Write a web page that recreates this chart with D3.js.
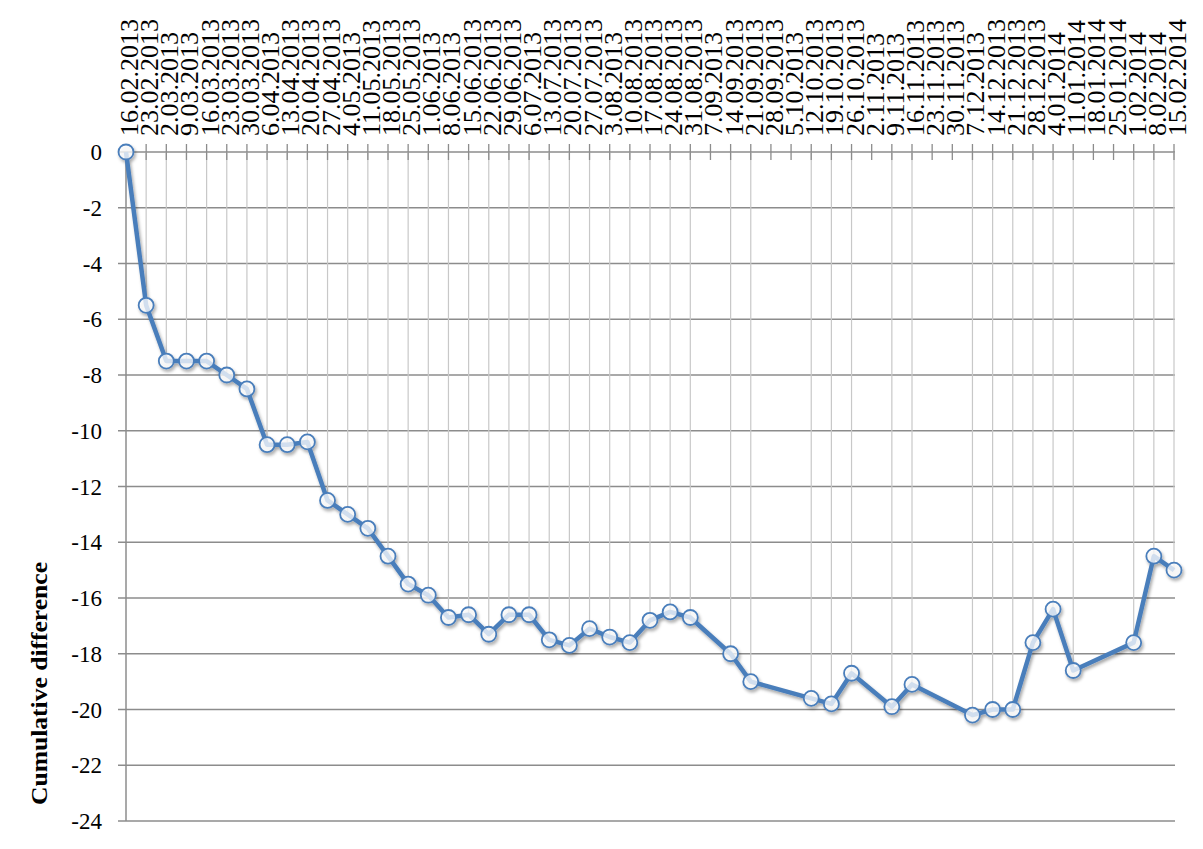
<!DOCTYPE html>
<html>
<head>
<meta charset="utf-8">
<script src="https://cdn.jsdelivr.net/npm/d3@7"></script>
<style>
  body { margin: 0; background: #fff; }
  svg { display: block; }
</style>
</head>
<body>
<div id="chart"></div>
<script>
// weekly categories, first to last
var weeks = ["16.02.2013","23.02.2013","2.03.2013","9.03.2013","16.03.2013","23.03.2013","30.03.2013",
  "6.04.2013","13.04.2013","20.04.2013","27.04.2013","4.05.2013","11.05.2013","18.05.2013","25.05.2013",
  "1.06.2013","8.06.2013","15.06.2013","22.06.2013","29.06.2013","6.07.2013","13.07.2013","20.07.2013",
  "27.07.2013","3.08.2013","10.08.2013","17.08.2013","24.08.2013","31.08.2013","7.09.2013","14.09.2013",
  "21.09.2013","28.09.2013","5.10.2013","12.10.2013","19.10.2013","26.10.2013","2.11.2013","9.11.2013",
  "16.11.2013","23.11.2013","30.11.2013","7.12.2013","14.12.2013","21.12.2013","28.12.2013","4.01.2014",
  "11.01.2014","18.01.2014","25.01.2014","1.02.2014","8.02.2014","15.02.2014"];

// cumulative difference, null = no value that week
var cumDiff = [0,-5.5,-7.5,-7.5,-7.5,-8,-8.5,
  -10.5,-10.5,-10.4,-12.5,-13,-13.5,-14.5,-15.5,
  -15.9,-16.7,-16.6,-17.3,-16.6,-16.6,-17.5,-17.7,
  -17.1,-17.4,-17.6,-16.8,-16.5,-16.7,null,-18,
  -19,null,null,-19.6,-19.8,-18.7,null,-19.9,
  -19.1,null,null,-20.2,-20,-20,-17.6,-16.4,
  -18.6,null,null,-17.6,-14.5,-15];

var yTicks = [0,-2,-4,-6,-8,-10,-12,-14,-16,-18,-20,-22,-24];
var yTitle = "Cumulative difference";

(function () {

    var W = 1203, H = 849;
    var pLeft = 126, pRight = 1174, pTop = 152, pBottom = 821;
    var blue = "#4a7ebb";
    var serif = "'Liberation Serif', 'Times New Roman', serif";

    var svg = d3.select("#chart").append("svg")
        .attr("width", W)
        .attr("height", H);

    var defs = svg.append("defs");
    var f = defs.append("filter").attr("id", "shadow")
        .attr("x", "-20%").attr("y", "-20%").attr("width", "140%").attr("height", "140%");
    f.append("feDropShadow")
        .attr("dx", 1.5).attr("dy", 2.5).attr("stdDeviation", 1.5)
        .attr("flood-color", "#000").attr("flood-opacity", 0.35);

    var x = d3.scalePoint()
        .domain(weeks)
        .range([pLeft, pRight]);

    var y = d3.scaleLinear()
        .domain([0, -24])
        .range([pTop, pBottom]);

    var data = weeks.map(function (w, i) { return { week: w, v: cumDiff[i] }; })
        .filter(function (d) { return d.v !== null; });

    //horizontal gridlines
    svg.append("g")
        .selectAll("line")
        .data(yTicks)
        .enter().append("line")
        .attr("x1", pLeft - 8)
        .attr("x2", pRight + 1)
        .attr("y1", function (d) { return y(d); })
        .attr("y2", function (d) { return y(d); })
        .attr("stroke", "#8c8c8c")
        .attr("stroke-width", 1.5);

    //drop lines from each point up to the category axis
    svg.append("g")
        .selectAll("line")
        .data(data)
        .enter().append("line")
        .attr("x1", function (d) { return x(d.week); })
        .attr("x2", function (d) { return x(d.week); })
        .attr("y1", pTop)
        .attr("y2", function (d) { return y(d.v); })
        .attr("stroke", "#c8c8c8")
        .attr("stroke-width", 1.2);

    //value axis line
    svg.append("line")
        .attr("x1", pLeft).attr("x2", pLeft)
        .attr("y1", pTop).attr("y2", pBottom)
        .attr("stroke", "#8c8c8c")
        .attr("stroke-width", 1.5);

    //category axis along the top, cross tick marks
    svg.append("g")
        .selectAll("line")
        .data(weeks.slice(1))
        .enter().append("line")
        .attr("x1", function (d) { return x(d); })
        .attr("x2", function (d) { return x(d); })
        .attr("y1", pTop - 8)
        .attr("y2", pTop + 8)
        .attr("stroke", "#8c8c8c")
        .attr("stroke-width", 1.3);

    //y tick labels
    svg.append("g")
        .selectAll("text")
        .data(yTicks)
        .enter().append("text")
        .attr("x", 102)
        .attr("y", function (d) { return y(d); })
        .attr("dy", "0.35em")
        .attr("text-anchor", "end")
        .style("font-family", serif)
        .style("font-size", "23px")
        .style("fill", "#000")
        .text(function (d) { return d; });

    //date labels, rotated
    svg.append("g")
        .selectAll("text")
        .data(weeks)
        .enter().append("text")
        .attr("transform", function (d) { return "translate(" + (x(d) + 12) + ",136) rotate(-90)"; })
        .attr("text-anchor", "start")
        .style("font-family", serif)
        .style("font-size", "26px")
        .style("fill", "#000")
        .text(function (d) { return d; });

    //axis title
    svg.append("text")
        .attr("transform", "translate(47,805) rotate(-90)")
        .attr("text-anchor", "start")
        .attr("textLength", 243)
        .attr("lengthAdjust", "spacingAndGlyphs")
        .style("font-family", serif)
        .style("font-size", "23px")
        .style("font-weight", "bold")
        .style("fill", "#000")
        .text(yTitle);

    //series
    var line = d3.line()
        .x(function (d) { return x(d.week); })
        .y(function (d) { return y(d.v); });

    var series = svg.append("g").attr("filter", "url(#shadow)");

    series.append("path")
        .datum(data)
        .attr("d", line)
        .attr("fill", "none")
        .attr("stroke", blue)
        .attr("stroke-width", 4.5)
        .attr("stroke-linejoin", "round");

    series.selectAll("circle")
        .data(data)
        .enter().append("circle")
        .attr("cx", function (d) { return x(d.week); })
        .attr("cy", function (d) { return y(d.v); })
        .attr("r", 7.5)
        .attr("fill", "#fff")
        .attr("fill-opacity", 0.75)
        .attr("stroke", blue)
        .attr("stroke-width", 1.8);
})();
</script>
</body>
</html>
